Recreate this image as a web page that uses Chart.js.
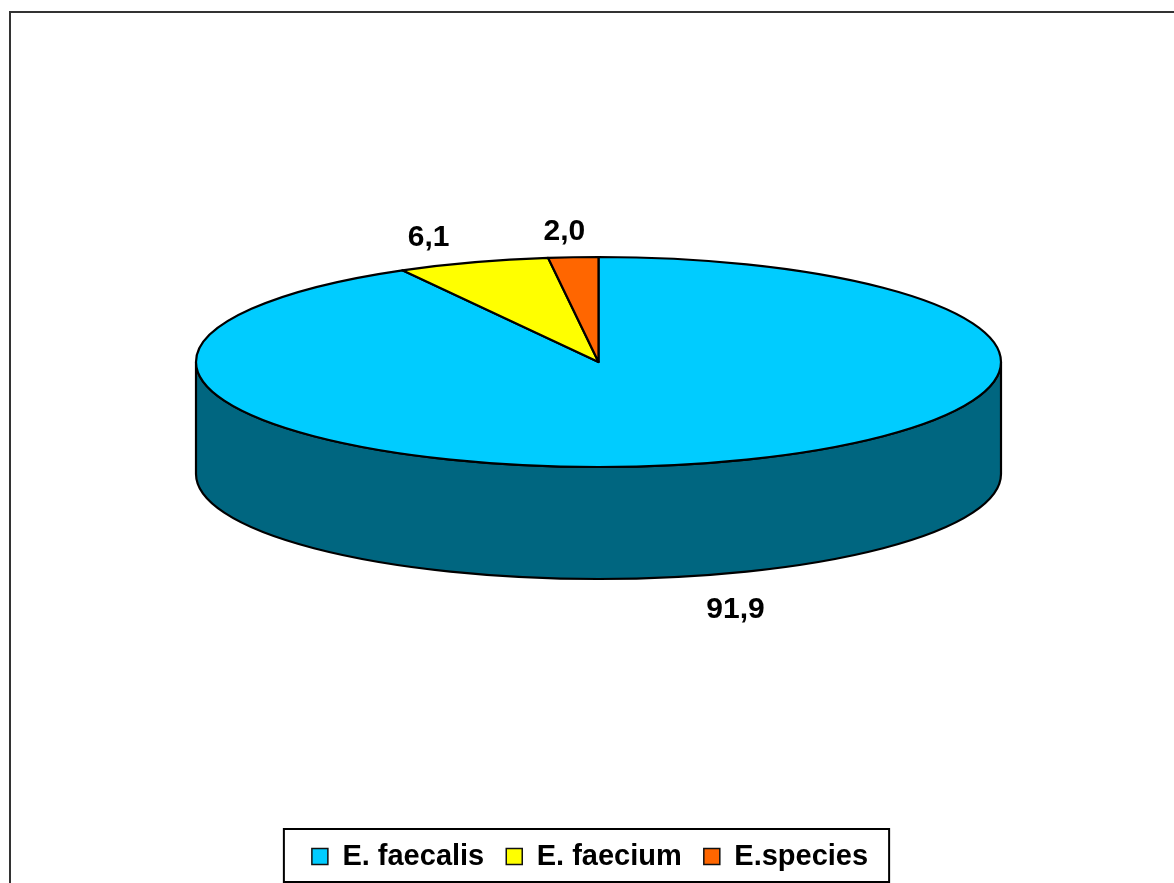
<!DOCTYPE html>
<html>
<head>
<meta charset="utf-8">
<title>Enterococcus</title>
<script src="https://cdn.jsdelivr.net/npm/chart.js@4.4.1/dist/chart.umd.min.js"></script>
<style>
  body { margin: 0; background: #fff; }
  canvas { display: block; }
</style>
</head>
<body>
<canvas id="pie" width="1174" height="883"></canvas>
<script>
const labels = ['E. faecalis', 'E. faecium', 'E.species'];
const percentage = [91.9, 6.1, 2.0];
const colors = ['#00CCFF', '#FFFF00', '#FF6600'];
const sideColors = ['#006680', '#808000', '#803300'];

// flattened pie: top face ellipse + wall height
const pieX = 598.5, pieY = 362, radX = 402.5, radY = 105, depth = 112;
const fontFamily = '"Liberation Sans", Arial, Helvetica, sans-serif';

const fmt = v => v.toFixed(1).replace('.', ',');

// parts of [s, e] that lie on the front half (0..PI)
const frontParts = (s, e) => {
  const out = [];
  for (let k = -1; k <= 1; k++) {
    const a = Math.max(s + k * 2 * Math.PI, 0);
    const b = Math.min(e + k * 2 * Math.PI, Math.PI);
    if (b > a) out.push([a, b]);
  }
  return out;
};

const pie3d = {
  id: 'pie3d',
  beforeDraw(chart) {
    const ctx = chart.ctx;
    ctx.save();
    ctx.strokeStyle = '#333';
    ctx.lineWidth = 2;
    ctx.beginPath();
    ctx.moveTo(10, 900);
    ctx.lineTo(10, 12);
    ctx.lineTo(1190, 12);
    ctx.stroke();
    ctx.restore();
  },
  beforeDatasetsDraw(chart) {
    const ctx = chart.ctx;
    const arcs = chart.getDatasetMeta(0).data;
    ctx.save();
    ctx.lineWidth = 2.2;
    ctx.strokeStyle = '#000';
    ctx.lineJoin = 'round';

    // wall
    arcs.forEach((arc, i) => {
      frontParts(arc.startAngle, arc.endAngle).forEach(([a, b]) => {
        ctx.beginPath();
        ctx.ellipse(pieX, pieY, radX, radY, 0, a, b);
        ctx.lineTo(pieX + radX * Math.cos(b), pieY + radY * Math.sin(b) + depth);
        ctx.ellipse(pieX, pieY + depth, radX, radY, 0, b, a, true);
        ctx.closePath();
        ctx.fillStyle = sideColors[i];
        ctx.fill();
        ctx.stroke();
      });
    });

    // top face
    arcs.forEach((arc, i) => {
      ctx.beginPath();
      ctx.moveTo(pieX, pieY);
      ctx.ellipse(pieX, pieY, radX, radY, 0, arc.startAngle, arc.endAngle);
      ctx.closePath();
      ctx.fillStyle = colors[i];
      ctx.fill();
      ctx.stroke();
    });

    // value labels, outside the rim
    ctx.fillStyle = '#000';
    ctx.font = 'bold 30px ' + fontFamily;
    ctx.textAlign = 'center';
    ctx.textBaseline = 'middle';
    arcs.forEach((arc, i) => {
      const mid = (arc.startAngle + arc.endAngle) / 2;
      const s = Math.sin(mid);
      const x = pieX + (radX + 142) * Math.cos(mid);
      const y = pieY + (radY + 26) * s + (s > 0 ? depth + 9 : 0);
      ctx.fillText(fmt(percentage[i]), x, y);
    });
    ctx.restore();
    return false;
  },
  afterDraw(chart) {
    const boxes = chart.legend.legendHitBoxes;
    if (!boxes || !boxes.length) return;
    const first = boxes[0], last = boxes[boxes.length - 1];
    const ctx = chart.ctx;
    ctx.save();
    ctx.strokeStyle = '#000';
    ctx.lineWidth = 2;
    ctx.strokeRect(first.left - 28, first.top - 13,
      last.left + last.width + 21 - (first.left - 28), 53);
    ctx.restore();
  }
};

new Chart(document.getElementById('pie'), {
  type: 'pie',
  data: {
    labels: labels,
    datasets: [{
      data: percentage,
      backgroundColor: colors,
      borderColor: '#111',
      borderWidth: 1.5
    }]
  },
  options: {
    responsive: false,
    animation: false,
    layout: { padding: { left: 6, bottom: 2 } },
    plugins: {
      tooltip: { enabled: false },
      legend: {
        position: 'bottom',
        onClick: null,
        labels: {
          boxWidth: 16,
          boxHeight: 16,
          padding: 22,
          color: '#000',
          font: { family: fontFamily, size: 29, weight: 'bold' }
        }
      }
    }
  },
  plugins: [pie3d]
});
</script>
</body>
</html>
